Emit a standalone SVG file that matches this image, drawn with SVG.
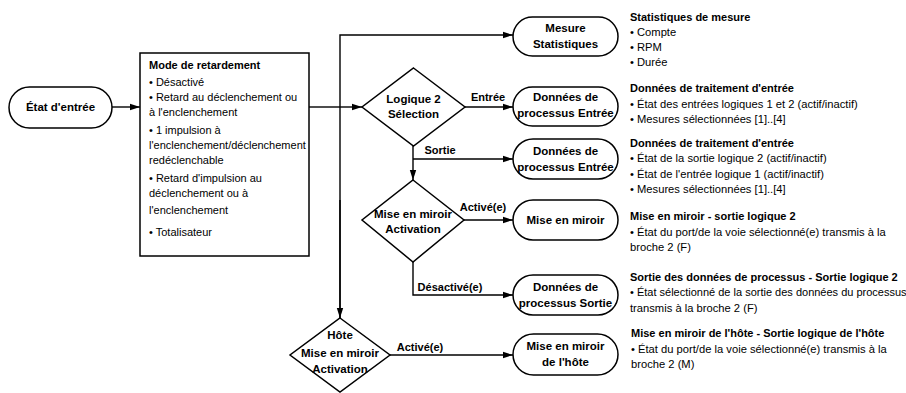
<svg xmlns="http://www.w3.org/2000/svg" width="906" height="393" viewBox="0 0 906 393">
<defs>
<marker id="arr" markerWidth="10" markerHeight="8" refX="10" refY="4" orient="auto" markerUnits="userSpaceOnUse">
<path d="M0,0.8 L10,4 L0,7.2 Z" fill="#000"/>
</marker>
<style>
.shape{fill:#fff;stroke:#000;stroke-width:1.5}
.line{fill:none;stroke:#000;stroke-width:1.4}
.arw{marker-end:url(#arr)}
text{font-family:"Liberation Sans",Arial,sans-serif;font-size:11px;fill:#000}
.b{font-weight:bold}
.c{text-anchor:middle}
.n{font-size:11.5px}
.r{font-size:11.2px}
.s{font-size:11px}
</style>
</defs>
<rect width="906" height="393" fill="#fff"/>

<g id="connectors">
<line class="line arw" x1="112" y1="107" x2="140" y2="107"/>
<polyline class="line" points="309,107 340,107"/>
<line class="line arw" x1="340" y1="107" x2="362" y2="107"/>
<polyline class="line arw" points="340,318 340,35 513,35"/>
<line class="line arw" x1="340" y1="200" x2="340" y2="318"/>
<line class="line arw" x1="465" y1="107" x2="513" y2="107"/>
<line class="line arw" x1="413" y1="146" x2="413" y2="180"/>
<polyline class="line arw" points="413,159 513,159"/>
<line class="line arw" x1="464" y1="220" x2="513" y2="220"/>
<polyline class="line arw" points="413,262 413,295 513,295"/>
<line class="line arw" x1="390" y1="355" x2="513" y2="355"/>
<text class="b c" x="488" y="101">Entrée</text>
<text class="b c" x="440" y="154">Sortie</text>
<text class="b c" x="483" y="211">Activé(e)</text>
<text class="b c" x="450" y="291">Désactivé(e)</text>
<text class="b c" x="420" y="351">Activé(e)</text>
</g>

<g id="etat-entree">
<rect class="shape" x="9" y="87" width="103" height="41" rx="20.5"/>
<text class="b c n" x="60.5" y="111">État d'entrée</text>
</g>

<g id="mode-retardement">
<rect class="shape" x="140" y="53" width="169" height="203"/>
<text class="b" x="149" y="69">Mode de retardement</text>
<text x="149" y="86">• Désactivé</text>
<text x="149" y="101">• Retard au déclenchement ou</text>
<text x="149" y="116">à l'enclenchement</text>
<text x="149" y="134">• 1 impulsion à</text>
<text x="149" y="149">l'enclenchement/déclenchement</text>
<text x="149" y="164">redéclenchable</text>
<text x="149" y="182">• Retard d'impulsion au</text>
<text x="149" y="197">déclenchement ou à</text>
<text x="149" y="214">l'enclenchement</text>
<text x="149" y="236">• Totalisateur</text>
</g>

<g id="logique2-selection">
<polygon class="shape" points="413.5,68 465,107 413.5,146 362,107"/>
<text class="b c n" x="413.5" y="103">Logique 2</text>
<text class="b c n" x="413.5" y="118">Sélection</text>
</g>

<g id="miroir-activation">
<polygon class="shape" points="413,180 464,220 413,262 362,220"/>
<text class="b c n" x="413" y="218">Mise en miroir</text>
<text class="b c n" x="413" y="233">Activation</text>
</g>

<g id="hote-miroir-activation">
<polygon class="shape" points="340,318 390,355 340,392 290,355"/>
<text class="b c n" x="340" y="339">Hôte</text>
<text class="b c n" x="340" y="357">Mise en miroir</text>
<text class="b c n" x="340" y="373">Activation</text>
</g>

<g id="mesure-statistiques">
<rect class="shape" x="513" y="17" width="105" height="39" rx="19.5"/>
<text class="b c n" x="565.5" y="32">Mesure</text>
<text class="b c n" x="565.5" y="48">Statistiques</text>
</g>

<g id="donnees-entree-1">
<rect class="shape" x="513" y="87" width="105" height="39" rx="19.5"/>
<text class="b c n" x="565.5" y="101">Données de</text>
<text class="b c n" x="565.5" y="117">processus Entrée</text>
</g>

<g id="donnees-entree-2">
<rect class="shape" x="513" y="139" width="105" height="40" rx="20"/>
<text class="b c n" x="565.5" y="155">Données de</text>
<text class="b c n" x="565.5" y="171">processus Entrée</text>
</g>

<g id="mise-en-miroir">
<rect class="shape" x="513" y="200" width="105" height="40" rx="20"/>
<text class="b c n" x="565.5" y="224">Mise en miroir</text>
</g>

<g id="donnees-sortie">
<rect class="shape" x="513" y="275" width="105" height="40" rx="20"/>
<text class="b c n" x="565.5" y="291">Données de</text>
<text class="b c n" x="565.5" y="307">processus Sortie</text>
</g>

<g id="miroir-hote">
<rect class="shape" x="513" y="334" width="105" height="41" rx="20.5"/>
<text class="b c n" x="565.5" y="350">Mise en miroir</text>
<text class="b c n" x="565.5" y="366">de l'hôte</text>
</g>

<g id="descriptions">
<text class="b" x="630" y="21">Statistiques de mesure</text>
<text class="r" x="630" y="36">• Compte</text>
<text class="r" x="630" y="51">• RPM</text>
<text class="r" x="630" y="66">• Durée</text>
<text class="b" x="630" y="92">Données de traitement d'entrée</text>
<text class="r" x="630" y="108">• État des entrées logiques 1 et 2 (actif/inactif)</text>
<text class="r" x="630" y="123">• Mesures sélectionnées [1]..[4]</text>
<text class="b" x="630" y="147">Données de traitement d'entrée</text>
<text class="r" x="630" y="162">• État de la sortie logique 2 (actif/inactif)</text>
<text class="r" x="630" y="178">• État de l'entrée logique 1 (actif/inactif)</text>
<text class="r" x="630" y="193">• Mesures sélectionnées [1]..[4]</text>
<text class="b" x="630" y="220">Mise en miroir - sortie logique 2</text>
<text class="r" x="630" y="236">• État du port/de la voie sélectionné(e) transmis à la</text>
<text class="r" x="630" y="251">broche 2 (F)</text>
<text class="b" x="630" y="281">Sortie des données de processus - Sortie logique 2</text>
<text class="s" x="630" y="296">• État sélectionné de la sortie des données du processus</text>
<text class="r" x="630" y="312">transmis à la broche 2 (F)</text>
<text class="b" x="631" y="337">Mise en miroir de l'hôte - Sortie logique de l'hôte</text>
<text class="r" x="631" y="353">• État du port/de la voie sélectionné(e) transmis à la</text>
<text class="r" x="631" y="368">broche 2 (M)</text>
</g>
</svg>
